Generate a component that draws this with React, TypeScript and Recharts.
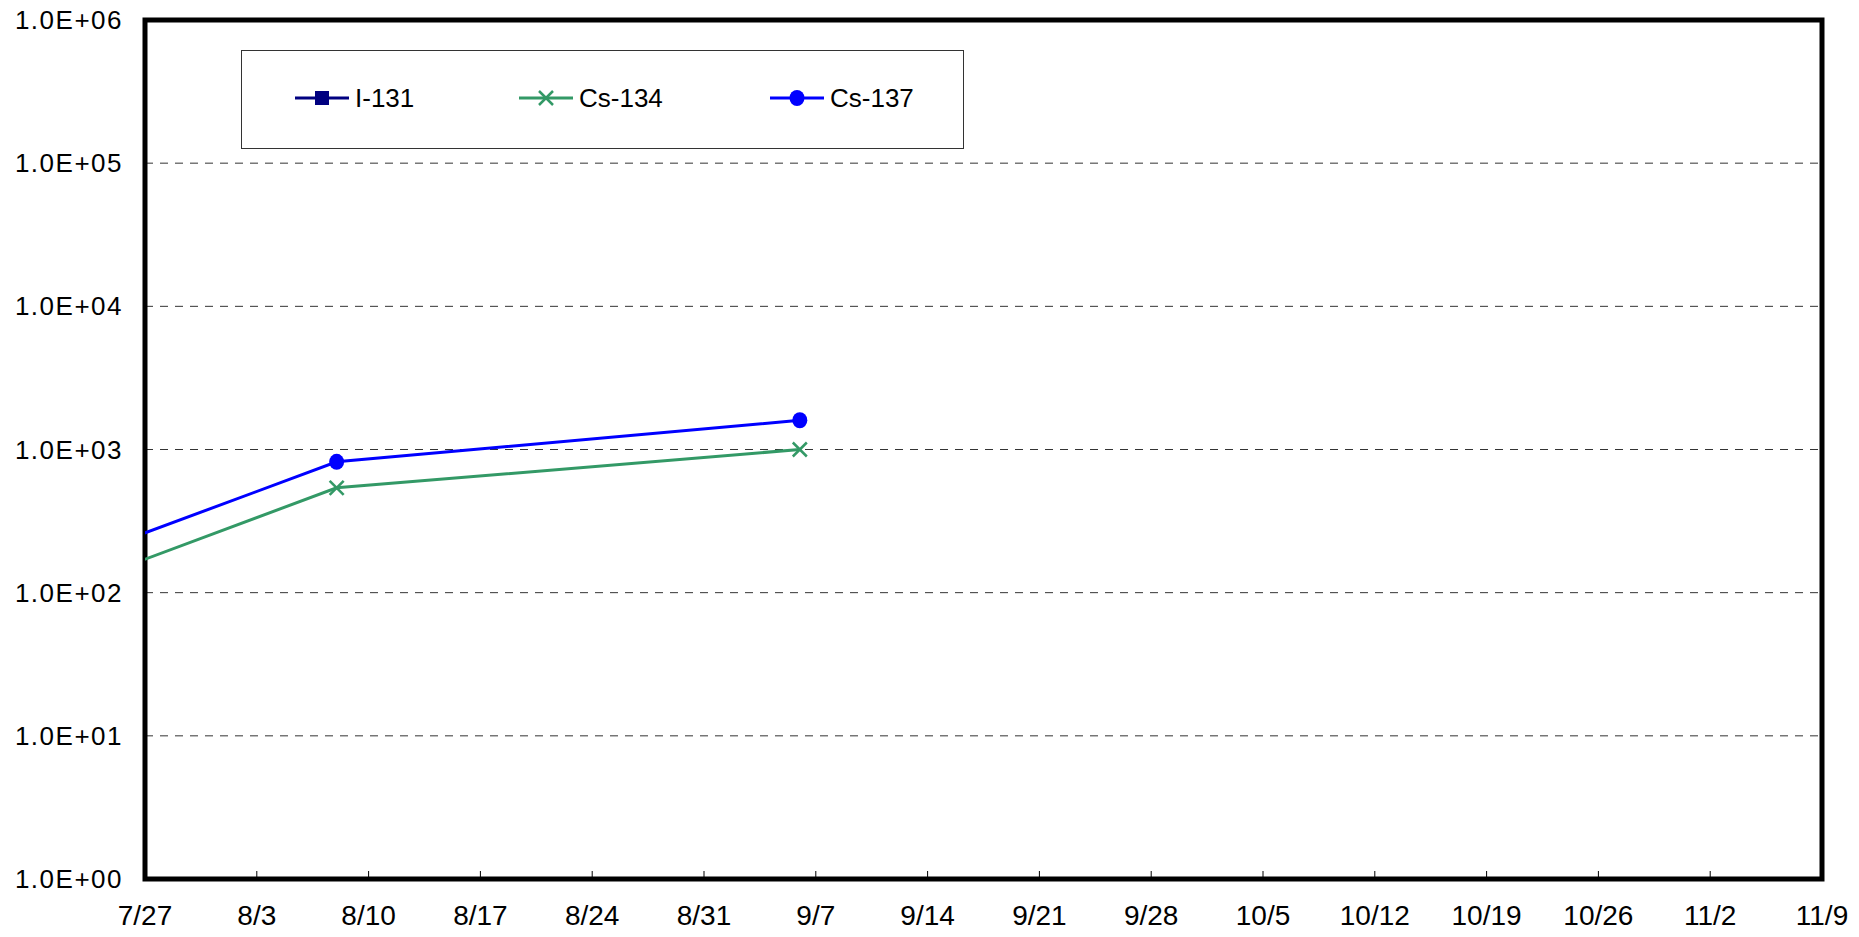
import React from 'react';
import { LineChart, Line, XAxis, YAxis, CartesianGrid, ReferenceArea } from 'recharts';

// sampling dates (2011) and measured activity per nuclide
const sampleDates = ['7/11', '8/8', '9/6'];
const i131Values: (number | null)[] = [null, null, null];
const cs134Values: (number | null)[] = [37, 540, 1000];
const cs137Values: (number | null)[] = [57, 820, 1600];

const xTickLabels = ['7/27', '8/3', '8/10', '8/17', '8/24', '8/31', '9/7', '9/14', '9/21', '9/28', '10/5', '10/12', '10/19', '10/26', '11/2', '11/9'];
const yTicks = [1, 10, 100, 1000, 10000, 100000, 1000000];

const toDay = (s: string) => {
  const [m, d] = s.split('/').map(Number);
  return Math.round((Date.UTC(2011, m - 1, d) - Date.UTC(2011, 0, 1)) / 86400000);
};

const xTicks = xTickLabels.map(toDay);
const xDomain = [xTicks[0], xTicks[xTicks.length - 1]];

const data = sampleDates.map((d, i) => ({
  day: toDay(d),
  I131: i131Values[i],
  Cs134: cs134Values[i],
  Cs137: cs137Values[i],
}));

const FONT = '"Liberation Sans", Arial, sans-serif';

const fmtExp = (v: number) => {
  const e = Math.round(Math.log10(v));
  return '1.0E+' + String(e).padStart(2, '0');
};

const XTick = (props: any) => {
  const { x, y, payload } = props;
  const idx = xTicks.indexOf(payload.value);
  return (
    <g>
      <line x1={x} x2={x} y1={y - 8} y2={y} stroke="#000" strokeWidth={1} />
      <text x={x} y={y + 46} textAnchor="middle" fontSize={28} fontFamily={FONT} fill="#000">
        {idx >= 0 ? xTickLabels[idx] : ''}
      </text>
    </g>
  );
};

const YTick = (props: any) => {
  const { x, y, payload } = props;
  return (
    <text x={x} y={y + 9} textAnchor="end" fontSize={26} fontFamily={FONT} fill="#000" letterSpacing={1.5}>
      {fmtExp(payload.value)}
    </text>
  );
};

const CrossDot = (props: any) => {
  const { cx, cy, value } = props;
  if (value == null || cx == null || cy == null) return null;
  return (
    <g>
      <line x1={cx - 7} y1={cy - 7} x2={cx + 7} y2={cy + 7} stroke="#339966" strokeWidth={2.5} />
      <line x1={cx - 7} y1={cy + 7} x2={cx + 7} y2={cy - 7} stroke="#339966" strokeWidth={2.5} />
    </g>
  );
};

const CircleDot = (props: any) => {
  const { cx, cy, value } = props;
  if (value == null || cx == null || cy == null) return null;
  return <ellipse cx={cx} cy={cy} rx={7.5} ry={8} fill="#0000ff" />;
};

const SquareDot = (props: any) => {
  const { cx, cy, value } = props;
  if (value == null || cx == null || cy == null) return null;
  return <rect x={cx - 7} y={cy - 7} width={14} height={14} fill="#000080" />;
};

const legendItems = [
  { name: 'I-131', color: '#000080', marker: 'square', left: 52 },
  { name: 'Cs-134', color: '#339966', marker: 'cross', left: 276 },
  { name: 'Cs-137', color: '#0000ff', marker: 'circle', left: 527 },
];

const LegendBox = () => (
  <div style={{ position: 'absolute', left: 241, top: 50, width: 723, height: 99, border: '1px solid #333', boxSizing: 'border-box', background: '#fff' }}>
    {legendItems.map((it) => (
      <div key={it.name} style={{ position: 'absolute', left: it.left, top: 32, display: 'flex', alignItems: 'center' }}>
        <svg width={56} height={30}>
          <line x1={1} x2={55} y1={15} y2={15} stroke={it.color} strokeWidth={3} />
          {it.marker === 'square' && <rect x={21} y={8} width={14} height={14} fill={it.color} />}
          {it.marker === 'cross' && (
            <g stroke={it.color} strokeWidth={2.5}>
              <line x1={21} y1={8} x2={35} y2={22} />
              <line x1={21} y1={22} x2={35} y2={8} />
            </g>
          )}
          {it.marker === 'circle' && <ellipse cx={28} cy={15} rx={7.5} ry={8} fill={it.color} />}
        </svg>
        <span style={{ fontFamily: FONT, fontSize: 26, color: '#000', marginLeft: 5, lineHeight: '30px' }}>{it.name}</span>
      </div>
    ))}
  </div>
);

export default function App() {
  return (
    <div style={{ position: 'absolute', left: 0, top: 0, width: 1859, height: 937, background: '#fff' }}>
      <LineChart width={1859} height={937} data={data} margin={{ top: 20, right: 37, left: 0, bottom: 0 }}>
        <CartesianGrid vertical={false} stroke="#333" strokeDasharray="8 7" strokeWidth={1} />
        <XAxis
          dataKey="day"
          type="number"
          domain={xDomain}
          ticks={xTicks}
          allowDataOverflow
          interval={0}
          height={58}
          tickSize={0}
          tickMargin={0}
          axisLine={false}
          tickLine={false}
          tick={<XTick />}
        />
        <YAxis
          scale="log"
          domain={[1, 1000000]}
          ticks={yTicks}
          allowDataOverflow
          interval={0}
          width={145}
          tickSize={0}
          tickMargin={22}
          axisLine={false}
          tickLine={false}
          tick={<YTick />}
        />
        <Line type="linear" dataKey="I131" stroke="#000080" strokeWidth={3} dot={<SquareDot />} isAnimationActive={false} />
        <Line type="linear" dataKey="Cs134" stroke="#339966" strokeWidth={3} dot={<CrossDot />} isAnimationActive={false} />
        <Line type="linear" dataKey="Cs137" stroke="#0000ff" strokeWidth={3} dot={<CircleDot />} isAnimationActive={false} />
        <ReferenceArea x1={xDomain[0]} x2={xDomain[1]} y1={1} y2={1000000} fill="none" fillOpacity={0} stroke="#000" strokeWidth={5} />
      </LineChart>
      <LegendBox />
    </div>
  );
}
